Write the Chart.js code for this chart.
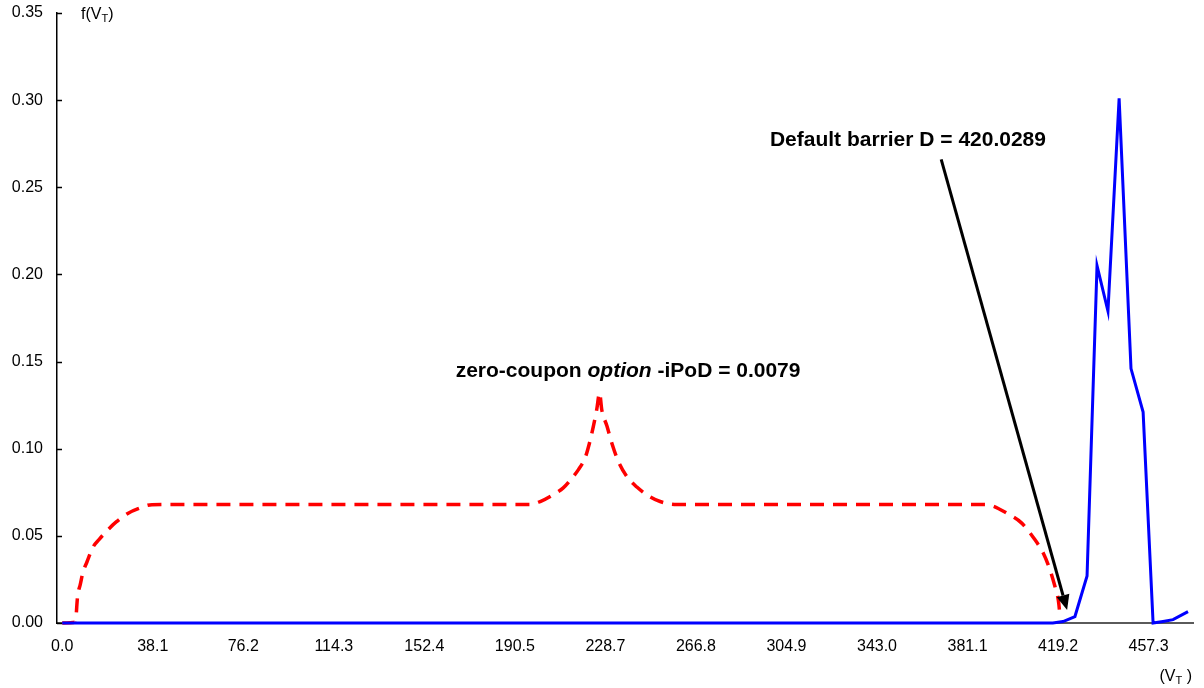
<!DOCTYPE html>
<html>
<head>
<meta charset="utf-8">
<script src="https://cdn.jsdelivr.net/npm/chart.js@4/dist/chart.umd.min.js"></script>
<style>
  html, body { margin: 0; padding: 0; background: #fff; }
  #c { display: block; }
</style>
</head>
<body>
<canvas id="c" width="1204" height="688"></canvas>
<script>
// ---- data ----
const xTickValues = [0, 38.11, 76.22, 114.33, 152.44, 190.55, 228.65, 266.76, 304.87, 342.98, 381.09, 419.2, 457.3];
const xTickLabels = ["0.0", "38.1", "76.2", "114.3", "152.4", "190.5", "228.7", "266.8", "304.9", "343.0", "381.1", "419.2", "457.3"];
const yTickValues = [0, 0.05, 0.10, 0.15, 0.20, 0.25, 0.30, 0.35];

// zero-coupon option density (red dashed)
const redX = [0, 5.6, 5.77, 6.10, 6.44, 7.58, 8.71, 10.40, 13.17, 15.57, 18.52, 22.73, 27.78, 31.99, 37.75, 47.6,
              196.97, 201.2, 206.6, 210.9, 214.5, 217.3, 220.1, 221.9, 223.6, 225.0, 226.2, 227.1, 229.3, 231.4,
              234.1, 237.7, 241.9, 246.1, 251.7, 258.7,
              388.4, 392.0, 397.6, 403.9, 409.5, 413.0, 415.8, 417.9, 419.3, 419.8, 420.0];
const redY = [0, 0.0005, 0.002, 0.009, 0.015, 0.022, 0.029, 0.035, 0.044, 0.048, 0.0525, 0.058, 0.063, 0.0656, 0.0679, 0.068,
              0.068, 0.0697, 0.0736, 0.0775, 0.083, 0.088, 0.0947, 0.103, 0.113, 0.1225, 0.132, 0.1225, 0.113, 0.103,
              0.0927, 0.084, 0.078, 0.0736, 0.0697, 0.068,
              0.068, 0.067, 0.063, 0.0573, 0.0477, 0.040, 0.0305, 0.0209, 0.0132, 0.007, 0.0027];

// firm value density (blue solid)
const blueX = [0, 417.0, 421.3, 426.3, 431.4, 435.6, 440.2, 444.9, 449.9, 455.0, 459.2, 463.4, 467.6, 473.9];
const blueY = [0, 0, 0.0008, 0.0037, 0.027, 0.205, 0.179, 0.301, 0.146, 0.121, 0.0, 0.0009, 0.0019, 0.0065];

// annotation anchors (data units)
const barrierLabel = { text: "Default barrier D = 420.0289", x: 356, y: 0.2768 };
const barrierArrow = { x0: 370, y0: 0.266, x1: 423, y1: 0.0075 };
const optionLabel = { x: 238.2, y: 0.1445 };

const toPts = (xs, ys) => xs.map((x, i) => ({ x: x, y: ys[i] }));

const FONT = "'Liberation Sans', Arial, Helvetica, sans-serif";

const decor = {
  id: 'decor',
  afterDraw(chart) {
    const ctx = chart.ctx;
    const xs = chart.scales.x, ys = chart.scales.y;
    const ca = chart.chartArea;
    ctx.save();
    // inward y tick marks
    ctx.strokeStyle = '#000';
    ctx.lineWidth = 1.5;
    yTickValues.forEach(v => {
      const py = Math.round(ys.getPixelForValue(v)) + 0.5;
      ctx.beginPath();
      ctx.moveTo(ca.left, py);
      ctx.lineTo(ca.left + 5, py);
      ctx.stroke();
    });

    // axis titles with subscripts
    function sub(x, y, parts, align) {
      let total = 0;
      parts.forEach(p => { ctx.font = p.size + 'px ' + FONT; total += ctx.measureText(p.t).width; });
      let cx = align === 'right' ? x - total : x;
      parts.forEach(p => {
        ctx.font = p.size + 'px ' + FONT;
        ctx.fillStyle = '#000';
        ctx.textBaseline = 'alphabetic';
        ctx.textAlign = 'left';
        ctx.fillText(p.t, cx, y + (p.dy || 0));
        cx += ctx.measureText(p.t).width;
      });
    }
    sub(ca.left + 24, ca.top + 6, [{ t: 'f(V', size: 16 }, { t: 'T', size: 11, dy: 3 }, { t: ')', size: 16 }], 'left');
    sub(ca.right - 1, ca.bottom + 58, [{ t: '(V', size: 16 }, { t: 'T', size: 11, dy: 3 }, { t: ' )', size: 16 }], 'right');

    // annotation texts
    ctx.fillStyle = '#000';
    ctx.textAlign = 'center';
    ctx.textBaseline = 'middle';
    ctx.font = 'bold 21px ' + FONT;
    ctx.fillText(barrierLabel.text, xs.getPixelForValue(barrierLabel.x), ys.getPixelForValue(barrierLabel.y));

    // option label with italic part
    const parts = [
      { t: 'zero-coupon ', f: 'bold 21px ' + FONT },
      { t: 'option', f: 'italic bold 21px ' + FONT },
      { t: ' -iPoD = 0.0079', f: 'bold 21px ' + FONT }
    ];
    let w = 0;
    parts.forEach(p => { ctx.font = p.f; w += ctx.measureText(p.t).width; });
    let cx = xs.getPixelForValue(optionLabel.x) - w / 2;
    const cy = ys.getPixelForValue(optionLabel.y);
    ctx.textAlign = 'left';
    parts.forEach(p => { ctx.font = p.f; ctx.fillText(p.t, cx, cy); cx += ctx.measureText(p.t).width; });

    // arrow
    const ax0 = xs.getPixelForValue(barrierArrow.x0), ay0 = ys.getPixelForValue(barrierArrow.y0);
    const ax1 = xs.getPixelForValue(barrierArrow.x1), ay1 = ys.getPixelForValue(barrierArrow.y1);
    const ang = Math.atan2(ay1 - ay0, ax1 - ax0);
    const headLen = 15, headW = 6.5;
    const bx = ax1 - headLen * Math.cos(ang), by = ay1 - headLen * Math.sin(ang);
    ctx.strokeStyle = '#000';
    ctx.lineWidth = 3;
    ctx.beginPath();
    ctx.moveTo(ax0, ay0);
    ctx.lineTo(bx, by);
    ctx.stroke();
    ctx.fillStyle = '#000';
    ctx.beginPath();
    ctx.moveTo(ax1, ay1);
    ctx.lineTo(bx + headW * Math.sin(ang), by - headW * Math.cos(ang));
    ctx.lineTo(bx - headW * Math.sin(ang), by + headW * Math.cos(ang));
    ctx.closePath();
    ctx.fill();
    ctx.restore();
  }
};

new Chart(document.getElementById('c'), {
  type: 'line',
  data: {
    datasets: [
      {
        label: 'V_T density',
        data: toPts(blueX, blueY),
        borderColor: '#0000FF',
        borderWidth: 3,
        pointRadius: 0,
        tension: 0,
        fill: false,
        clip: false
      },
      {
        label: 'zero-coupon option',
        data: toPts(redX, redY),
        borderColor: '#FF0000',
        borderWidth: 3.5,
        borderDash: [14, 9],
        borderCapStyle: 'butt',
        pointRadius: 0,
        cubicInterpolationMode: 'monotone',
        fill: false,
        clip: false
      }
    ]
  },
  options: {
    responsive: false,
    animation: false,
    events: [],
    layout: { padding: { top: 13, right: 11, left: 0, bottom: 0 } },
    plugins: { legend: { display: false }, tooltip: { enabled: false }, title: { display: false } },
    scales: {
      x: {
        type: 'linear',
        min: -2.2,
        max: 476,
        afterFit(s) { s.height = 65; s.paddingLeft = 0; s.paddingRight = 0; },
        afterBuildTicks(s) { s.ticks = xTickValues.map(v => ({ value: v })); },
        grid: { display: false, drawTicks: false },
        border: { display: true, color: '#5a5a5a', width: 2 },
        ticks: {
          autoSkip: false,
          maxRotation: 0,
          padding: 14,
          color: '#000',
          font: { family: FONT, size: 16 },
          callback: (v, i) => xTickLabels[i]
        }
      },
      y: {
        min: 0,
        max: 0.35,
        afterFit(s) { s.width = 57; s.paddingTop = 0; s.paddingBottom = 0; },
        afterBuildTicks(s) { s.ticks = yTickValues.map(v => ({ value: v })); },
        grid: { display: false, drawTicks: false },
        border: { display: true, color: '#000', width: 1.5 },
        ticks: {
          padding: 14,
          color: '#000',
          font: { family: FONT, size: 16 },
          callback: v => Number(v).toFixed(2)
        }
      }
    }
  },
  plugins: [decor]
});
</script>
</body>
</html>
